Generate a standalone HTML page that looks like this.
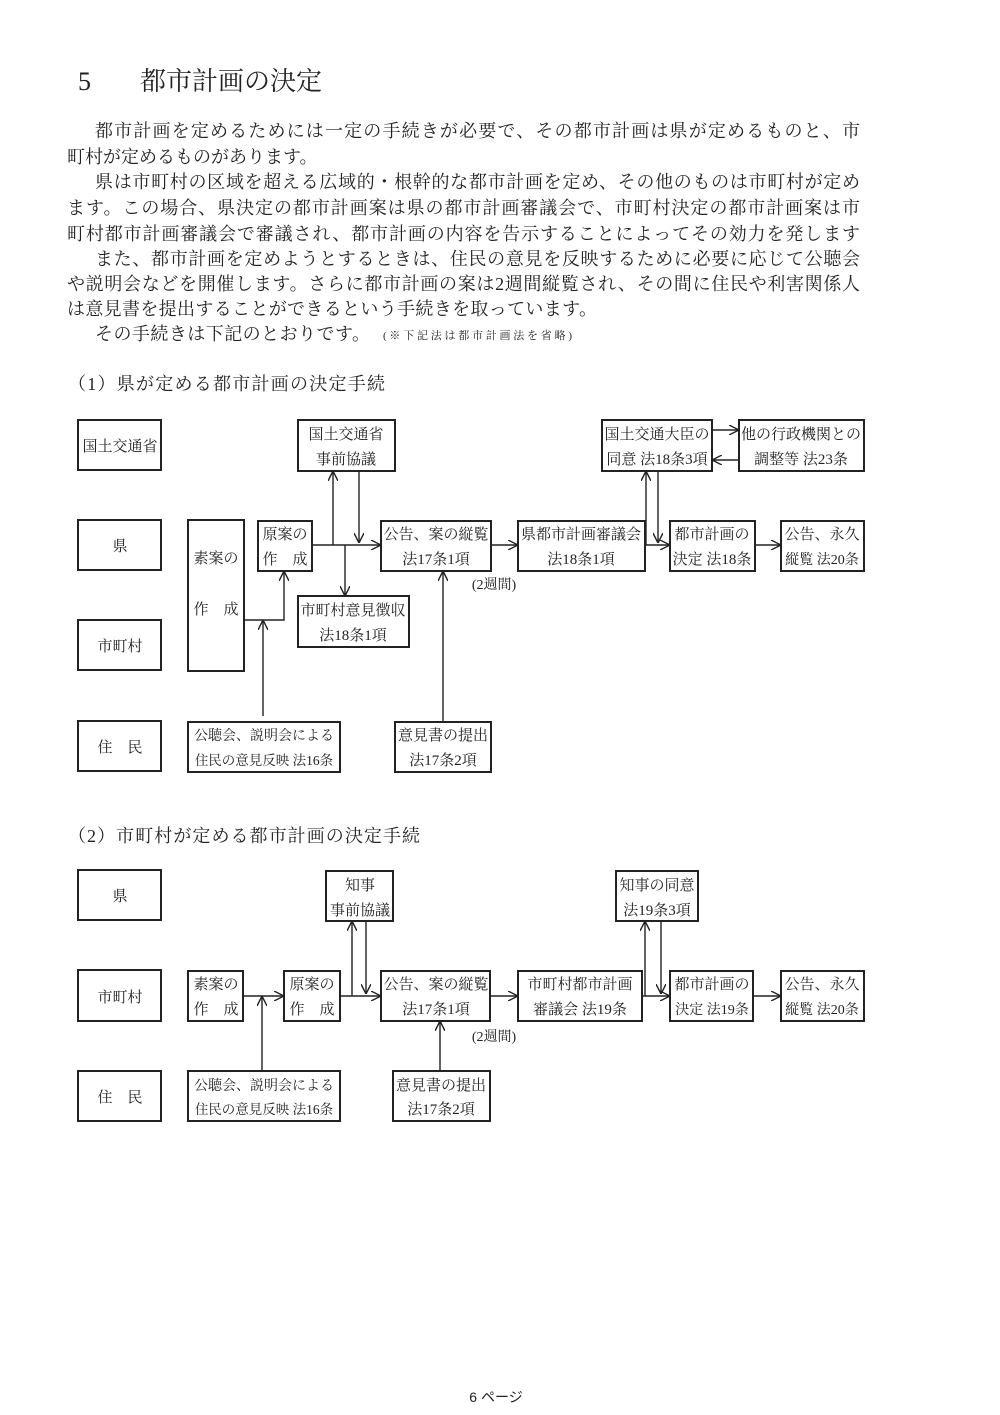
<!DOCTYPE html>
<html><head><meta charset="utf-8"><style>
html,body{margin:0;padding:0;background:#fff}
svg{display:block}
text{font-family:"Liberation Serif","Noto Serif CJK SC","Noto Sans CJK JP",serif;fill:#222}
</style></head><body>
<svg width="1000" height="1415" viewBox="0 0 1000 1415" xmlns="http://www.w3.org/2000/svg">
<defs>
<marker id="a" viewBox="0 0 10 10" refX="10" refY="5" markerWidth="10" markerHeight="10" markerUnits="userSpaceOnUse" orient="auto">
<path d="M0,0 L10,5 L0,10" fill="none" stroke="#222" stroke-width="1.4"/>
</marker>
</defs>

<text x="78" y="90" font-size="26">5</text>
<text x="140" y="90" font-size="26">都市計画の決定</text>

<g font-size="18">
<text x="95" y="137" textLength="765" lengthAdjust="spacing">都市計画を定めるためには一定の手続きが必要で、その都市計画は県が定めるものと、市</text>
<text x="67" y="163">町村が定めるものがあります。</text>
<text x="95" y="188" textLength="765" lengthAdjust="spacing">県は市町村の区域を超える広域的・根幹的な都市計画を定め、その他のものは市町村が定め</text>
<text x="67" y="214" textLength="793" lengthAdjust="spacing">ます。この場合、県決定の都市計画案は県の都市計画審議会で、市町村決定の都市計画案は市</text>
<text x="67" y="240" textLength="793" lengthAdjust="spacing">町村都市計画審議会で審議され、都市計画の内容を告示することによってその効力を発します</text>
<text x="95" y="265" textLength="765" lengthAdjust="spacing">また、都市計画を定めようとするときは、住民の意見を反映するために必要に応じて公聴会</text>
<text x="67" y="290" textLength="793" lengthAdjust="spacing">や説明会などを開催します。さらに都市計画の案は2週間縦覧され、その間に住民や利害関係人</text>
<text x="67" y="315" textLength="530" lengthAdjust="spacing">は意見書を提出することができるという手続きを取っています。</text>
<text x="95" y="340" textLength="275" lengthAdjust="spacing">その手続きは下記のとおりです。</text>
<text x="383" y="339" font-size="11" textLength="189" lengthAdjust="spacing">(※下記法は都市計画法を省略)</text>
<text x="68" y="390" textLength="317" lengthAdjust="spacing">（1）県が定める都市計画の決定手続</text>
<text x="68" y="842" textLength="352" lengthAdjust="spacing">（2）市町村が定める都市計画の決定手続</text>
</g>

<g fill="none" stroke="#222" stroke-width="2">
<rect x="78" y="420" width="83" height="50"/>
<rect x="78" y="520" width="83" height="50"/>
<rect x="78" y="620" width="83" height="50"/>
<rect x="78" y="721" width="83" height="50"/>
<rect x="188" y="520" width="56" height="151"/>
<rect x="258" y="521" width="54" height="50"/>
<rect x="298" y="420" width="97" height="51"/>
<rect x="381" y="521" width="110" height="50"/>
<rect x="298" y="596" width="111" height="51"/>
<rect x="188" y="722" width="152" height="50"/>
<rect x="395" y="722" width="96" height="50"/>
<rect x="602" y="420" width="110" height="51"/>
<rect x="739" y="420" width="125" height="51"/>
<rect x="518" y="521" width="127" height="50"/>
<rect x="670" y="521" width="85" height="50"/>
<rect x="781" y="521" width="83" height="50"/>

<rect x="78" y="870" width="83" height="50"/>
<rect x="78" y="970" width="83" height="51"/>
<rect x="78" y="1071" width="83" height="50"/>
<rect x="188" y="971" width="55" height="50"/>
<rect x="284" y="971" width="56" height="50"/>
<rect x="326" y="871" width="67" height="50"/>
<rect x="381" y="971" width="109" height="50"/>
<rect x="518" y="971" width="124" height="50"/>
<rect x="616" y="871" width="82" height="50"/>
<rect x="670" y="971" width="83" height="50"/>
<rect x="781" y="971" width="83" height="50"/>
<rect x="188" y="1071" width="152" height="50"/>
<rect x="393" y="1071" width="97" height="50"/>
</g>

<g fill="none" stroke="#222" stroke-width="1.4">
<line x1="312" y1="545" x2="381" y2="545" marker-end="url(#a)"/>
<line x1="333" y1="545" x2="333" y2="471" marker-end="url(#a)"/>
<line x1="359" y1="471" x2="359" y2="543" marker-end="url(#a)"/>
<line x1="345" y1="545" x2="345" y2="596" marker-end="url(#a)"/>
<polyline points="244,620 284,620 284,571" marker-end="url(#a)"/>
<line x1="263" y1="716" x2="263" y2="620" marker-end="url(#a)"/>
<line x1="443" y1="722" x2="443" y2="571" marker-end="url(#a)"/>
<line x1="491" y1="545" x2="518" y2="545" marker-end="url(#a)"/>
<line x1="645" y1="545" x2="670" y2="545" marker-end="url(#a)"/>
<line x1="646" y1="545" x2="646" y2="471" marker-end="url(#a)"/>
<line x1="658" y1="471" x2="658" y2="543" marker-end="url(#a)"/>
<line x1="712" y1="430" x2="739" y2="430" marker-end="url(#a)"/>
<line x1="739" y1="460" x2="712" y2="460" marker-end="url(#a)"/>
<line x1="755" y1="545" x2="781" y2="545" marker-end="url(#a)"/>

<line x1="243" y1="996" x2="284" y2="996" marker-end="url(#a)"/>
<line x1="262" y1="1071" x2="262" y2="996" marker-end="url(#a)"/>
<line x1="340" y1="996" x2="381" y2="996" marker-end="url(#a)"/>
<line x1="352" y1="996" x2="352" y2="921" marker-end="url(#a)"/>
<line x1="366" y1="921" x2="366" y2="994" marker-end="url(#a)"/>
<line x1="490" y1="996" x2="518" y2="996" marker-end="url(#a)"/>
<line x1="440" y1="1071" x2="440" y2="1021" marker-end="url(#a)"/>
<line x1="642" y1="996" x2="670" y2="996" marker-end="url(#a)"/>
<line x1="645" y1="996" x2="645" y2="921" marker-end="url(#a)"/>
<line x1="661" y1="921" x2="661" y2="994" marker-end="url(#a)"/>
<line x1="753" y1="996" x2="781" y2="996" marker-end="url(#a)"/>
</g>

<g font-size="15" text-anchor="middle">
<text x="120" y="451">国土交通省</text>
<text x="120" y="551">県</text>
<text x="120" y="651">市町村</text>
<text x="120" y="752">住　民</text>
<text x="216" y="563">素案の</text>
<text x="216" y="614">作　成</text>
<text x="285" y="539">原案の</text>
<text x="285" y="564">作　成</text>
<text x="346" y="439">国土交通省</text>
<text x="346" y="464">事前協議</text>
<text x="436" y="539">公告、案の縦覧</text>
<text x="436" y="564">法17条1項</text>
<text x="353" y="615">市町村意見徴収</text>
<text x="353" y="640">法18条1項</text>
<text x="264" y="740" font-size="14">公聴会、説明会による</text>
<text x="264" y="765" font-size="13.5">住民の意見反映 法16条</text>
<text x="443" y="740">意見書の提出</text>
<text x="443" y="765">法17条2項</text>
<text x="494" y="589" font-size="14">(2週間)</text>
<text x="657" y="439">国土交通大臣の</text>
<text x="657" y="464">同意 法18条3項</text>
<text x="801" y="439">他の行政機関との</text>
<text x="801" y="464">調整等 法23条</text>
<text x="581" y="539">県都市計画審議会</text>
<text x="581" y="564">法18条1項</text>
<text x="712" y="539">都市計画の</text>
<text x="712" y="564">決定 法18条</text>
<text x="822" y="539">公告、永久</text>
<text x="822" y="564" font-size="14">縦覧 法20条</text>

<text x="120" y="901">県</text>
<text x="120" y="1002">市町村</text>
<text x="120" y="1102">住　民</text>
<text x="216" y="989">素案の</text>
<text x="216" y="1014">作　成</text>
<text x="312" y="989">原案の</text>
<text x="312" y="1014">作　成</text>
<text x="360" y="890">知事</text>
<text x="360" y="915">事前協議</text>
<text x="436" y="989">公告、案の縦覧</text>
<text x="436" y="1014">法17条1項</text>
<text x="580" y="989">市町村都市計画</text>
<text x="580" y="1014">審議会 法19条</text>
<text x="657" y="890">知事の同意</text>
<text x="657" y="915">法19条3項</text>
<text x="712" y="989">都市計画の</text>
<text x="712" y="1014" font-size="14">決定 法19条</text>
<text x="822" y="989">公告、永久</text>
<text x="822" y="1014" font-size="14">縦覧 法20条</text>
<text x="264" y="1090" font-size="14">公聴会、説明会による</text>
<text x="264" y="1114" font-size="13.5">住民の意見反映 法16条</text>
<text x="441" y="1090">意見書の提出</text>
<text x="441" y="1114">法17条2項</text>
<text x="494" y="1041" font-size="14">(2週間)</text>
</g>

<text x="496" y="1402" font-size="14" text-anchor="middle" style='font-family:"Liberation Sans","Noto Sans CJK JP",sans-serif'>6 ページ</text>
</svg>
</body></html>
